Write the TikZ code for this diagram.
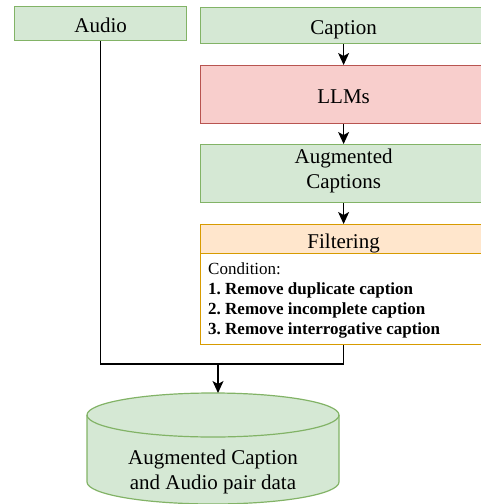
\documentclass[tikz,border=0pt]{standalone}
\usepackage{fontspec}
\setmainfont{Liberation Serif}
\usetikzlibrary{arrows.meta}
\definecolor{gfill}{HTML}{D5E8D4}
\definecolor{gline}{HTML}{82B366}
\definecolor{rfill}{HTML}{F8CECC}
\definecolor{rline}{HTML}{B85450}
\definecolor{ofill}{HTML}{FFE6CC}
\definecolor{oline}{HTML}{D79B00}
\frenchspacing
\begin{document}
\begin{tikzpicture}[x=1pt,y=-1pt,
  box/.style={draw, line width=1.2pt, inner sep=0pt, anchor=north west,
    font=\fontsize{21}{25}\selectfont, text height=18pt, text depth=0pt},
  greenbox/.style={box, fill=gfill, draw=gline},
  redbox/.style={box, fill=rfill, draw=rline},
  orangebox/.style={box, fill=ofill, draw=oline},
  plainbox/.style={box, fill=white, draw=oline},
  txt/.style={inner sep=0pt, align=center, font=\fontsize{21}{25}\selectfont},
  conn/.style={line width=1.1pt, black},
  arr/.style={conn, -{Stealth[length=12pt,width=11pt,inset=3pt]}}]
\clip (0,0) rectangle (481,504);

\node[greenbox, minimum width=172pt, minimum height=34pt] (audio) at (14,6) {Audio};
\node[greenbox, minimum width=286pt, minimum height=36pt] (caption) at (200,7) {Caption};
\node[redbox, minimum width=286pt, minimum height=58pt] (llm) at (200,65) {LLMs};
\node[greenbox, minimum width=286pt, minimum height=58pt] (aug) at (200,144) {};
\node[txt] (augt) at ([yshift=2.6pt]aug.center) {Augmented\\Captions};
\node[orangebox, minimum width=286pt, minimum height=29pt] (fhead) at (200,224) {Filtering};
\node[plainbox, minimum width=286pt, minimum height=91pt] (fbody) at (200,253) {};
\node[inner sep=0pt, anchor=north west, align=left, font=\fontsize{17}{20}\selectfont] (cond) at (208,262.4)
  {Condition:\\\textbf{1. Remove duplicate caption}\\\textbf{2. Remove incomplete caption}\\\textbf{3. Remove interrogative caption}};

% cylinder (database)
\fill[gfill] (87,415) -- (87,482) arc[start angle=180,end angle=0,x radius=126,y radius=22]
  -- (339,415) arc[start angle=0,end angle=-180,x radius=126,y radius=22] -- cycle;
\draw[gline, line width=1.2pt] (87,415) -- (87,482) arc[start angle=180,end angle=0,x radius=126,y radius=22] -- (339,415);
\draw[gline, line width=1.2pt] (213,415) ellipse [x radius=126, y radius=22];
\node[txt] (db) at (213,472.1) {Augmented Caption\\and Audio pair data};
\coordinate (dbtop) at (218,393);
\coordinate (j) at (218,364);

\draw[arr] (caption.south) -- (llm.north);
\draw[arr] (llm.south) -- (aug.north);
\draw[arr] (aug.south) -- (fhead.north);
\draw[conn] (audio.south) |- (j) -| (fbody.south);
\draw[arr] (j) -- (dbtop);
\end{tikzpicture}
\end{document}
